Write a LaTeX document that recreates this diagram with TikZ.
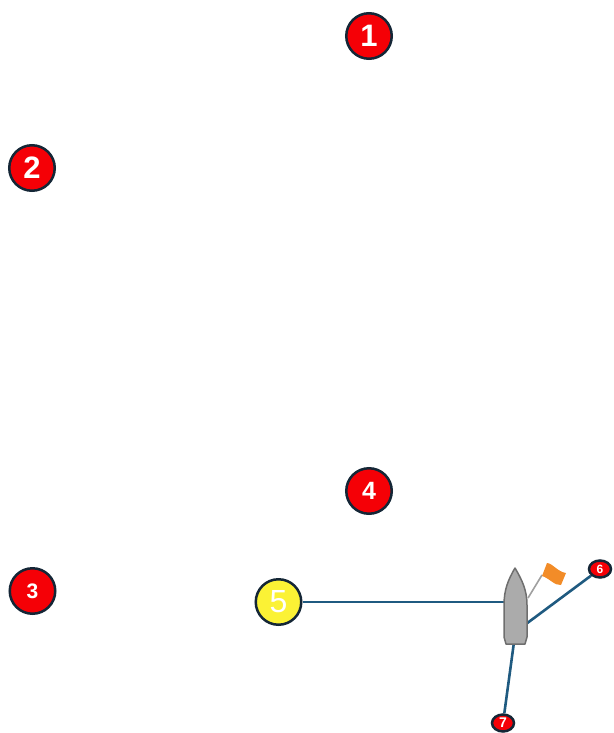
\documentclass[tikz,border=0pt]{standalone}
\usepackage{fontspec}
\setmainfont{Liberation Sans}
\definecolor{ringc}{HTML}{142636}
\definecolor{linkc}{HTML}{1F5A80}
\definecolor{boatc}{HTML}{ABABAB}
\definecolor{boate}{HTML}{6E6E6E}
\definecolor{polec}{HTML}{A0A0A0}
\definecolor{flagc}{HTML}{F28C28}
\definecolor{markred}{HTML}{F50006}
\definecolor{markyel}{HTML}{FBF235}
\usetikzlibrary{shapes.geometric}
\tikzset{
  mark base/.style={circle,draw=ringc,line width=2.5pt,inner sep=0pt,text=white,font=\bfseries},
  bigmark/.style={mark base,fill=markred,minimum size=45.5pt},
  yelmark/.style={mark base,fill=markyel,minimum size=45.5pt,font=\fontsize{32}{32}\selectfont},
  tinymark/.style={ellipse,draw=ringc,line width=2.5pt,fill=markred,inner sep=0pt,minimum width=22pt,minimum height=17pt,text=white,font=\bfseries\fontsize{12}{12}\selectfont},
  link/.style={draw=linkc,line width=2.6pt},
}
\begin{document}
\begin{tikzpicture}[x=1pt,y=-1pt]
\useasboundingbox (0,0) rectangle (613,733);
\node[bigmark,font=\bfseries\fontsize{31}{31}\selectfont] (m1) at (369,36) {1};
\node[bigmark,font=\bfseries\fontsize{31}{31}\selectfont] (m2) at (32,168) {2};
\node[bigmark,font=\bfseries\fontsize{21}{21}\selectfont] (m3) at (32.5,591) {3};
\node[bigmark,font=\bfseries\fontsize{25}{25}\selectfont] (m4) at (369,491) {4};
\node[yelmark] (m5) at (278.5,602) {5};
\node[tinymark] (m6) at (600,569) {6};
\node[tinymark,font=\bfseries\fontsize{14}{14}\selectfont] (m7) at (503,723) {7};
\coordinate (boatL) at (504,602);
\coordinate (boatR) at (526,624);
\coordinate (boatB) at (514,642);
\draw[link] (m5) -- (boatL);
\draw[link] (m6) -- (boatR);
\draw[link] (m7) -- (boatB);
\draw[boate,line width=1.5pt,fill=boatc,line join=round]
  (515,568) .. controls (508,580) and (504,590) .. (504,605)
  -- (504,637) -- (506,644) -- (525,644) -- (527,637) -- (527,605)
  .. controls (527,590) and (522,580) .. (515,568) -- cycle;
\draw[polec,line width=1.6pt] (528,598) -- (542,575);
\fill[flagc] (542,576) -- (547,563) .. controls (552,563) and (558,572) .. (566,573)
  -- (561,585) .. controls (555,586) and (549,578) .. (542,576) -- cycle;
\end{tikzpicture}
\end{document}
